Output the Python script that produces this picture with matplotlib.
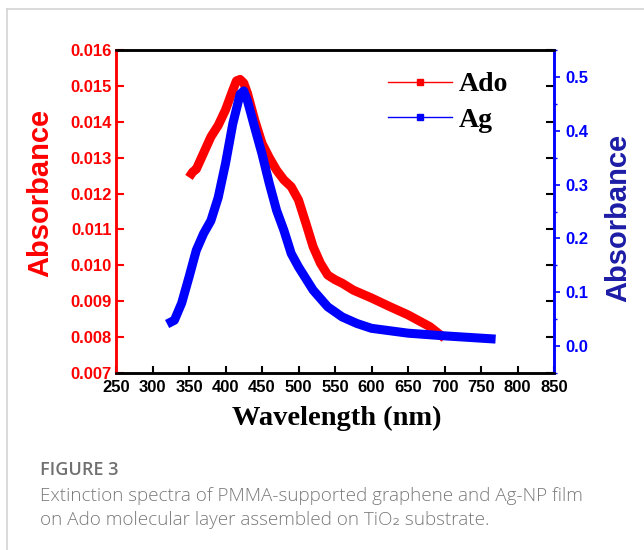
import matplotlib.pyplot as plt
from matplotlib.lines import Line2D
from matplotlib.ticker import MultipleLocator

# Ado spectrum (left axis)
ado_wl = [350, 355, 360, 370, 380, 390, 400, 410, 415, 420, 425, 430, 440, 450,
          460, 470, 480, 490, 500, 510, 520, 530, 540, 550, 560, 575, 600, 625,
          650, 680, 700]
ado_abs = [0.01245, 0.0126, 0.01268, 0.01313, 0.01358, 0.0139, 0.01433, 0.01488,
           0.01514, 0.01518, 0.01508, 0.0148, 0.01405, 0.0134, 0.0130, 0.01265,
           0.01238, 0.01219, 0.01182, 0.01118, 0.01052, 0.01006, 0.00973, 0.0096,
           0.0095, 0.00931, 0.00909, 0.00885, 0.00862, 0.00829, 0.00797]

# Ag spectrum (right axis)
ag_wl = [320, 330, 340, 350, 360, 370, 380, 390, 400, 410, 420, 425, 430, 440,
         450, 460, 470, 480, 490, 500, 520, 540, 560, 580, 600, 650, 700, 770]
ag_abs = [0.041, 0.048, 0.080, 0.128, 0.178, 0.209, 0.233, 0.276, 0.339, 0.413,
          0.468, 0.474, 0.456, 0.406, 0.357, 0.302, 0.252, 0.215, 0.172, 0.147,
          0.104, 0.073, 0.054, 0.042, 0.033, 0.024, 0.019, 0.013]

left_ticks = [0.007, 0.008, 0.009, 0.010, 0.011, 0.012, 0.013, 0.014, 0.015, 0.016]
right_ticks = [0.0, 0.1, 0.2, 0.3, 0.4, 0.5]

RED = '#ff0000'
BLUE = '#0000ff'
NAVY = '#1c1ca6'
SANS = 'Liberation Sans'
SERIF = 'Liberation Serif'

fig = plt.figure(figsize=(6.44, 5.5), dpi=100)
ax = fig.add_axes([116 / 644, 1 - 373 / 550, 438 / 644, 323 / 550])
ax2 = ax.twinx()

ax.plot(ado_wl, ado_abs, color=RED, lw=6.5, solid_capstyle='butt',
        solid_joinstyle='round', zorder=3)
ax2.plot(ag_wl, ag_abs, color=BLUE, lw=6.5, solid_capstyle='butt',
         solid_joinstyle='round', zorder=3)

ax.set_xlim(250, 850)
ax.set_ylim(0.007, 0.016)
ax2.set_ylim(-0.05, 0.55)
ax.xaxis.set_major_locator(MultipleLocator(50))
ax.set_yticks(left_ticks)
ax.set_yticklabels([f'{v:.3f}' for v in left_ticks])
ax2.set_yticks(right_ticks)
ax2.set_yticklabels([f'{v:.1f}' for v in right_ticks])
ax2.yaxis.set_minor_locator(MultipleLocator(0.05))

# spines
for a in (ax, ax2):
    a.spines['top'].set_color('black')
    a.spines['bottom'].set_color('black')
    a.spines['left'].set_color(RED)
    a.spines['right'].set_color(BLUE)
    for s in a.spines.values():
        s.set_linewidth(1.8)

# ticks
ax.tick_params(axis='x', direction='in', length=5, width=1.5, color='black',
               pad=5, labelsize=12)
ax.tick_params(axis='y', direction='in', length=6, width=1.5, color=RED,
               labelcolor=RED, labelsize=12, pad=3)
ax2.tick_params(axis='y', which='major', direction='out', length=4, width=1.2,
                color=BLUE, labelcolor=BLUE, labelsize=12, pad=4)
ax2.tick_params(axis='y', which='minor', direction='out', length=2.5, width=1,
                color=BLUE)

# black mirrored left-axis ticks on the right spine
sec = ax.secondary_yaxis('right')
sec.set_yticks(left_ticks)
sec.tick_params(axis='y', direction='in', length=6, width=1.5, color='black',
                labelright=False)
sec.spines['right'].set_visible(False)

for lab in ax.get_xticklabels() + ax.get_yticklabels() + ax2.get_yticklabels():
    lab.set_fontfamily(SANS)
    lab.set_fontweight('bold')

fig.text(337 / 644, 1 - 418 / 550, 'Wavelength (nm)', fontfamily=SERIF,
         fontweight='bold', fontsize=20.5, ha='center', va='center')
fig.text(40 / 644, 1 - 193 / 550, 'Absorbance', fontfamily=SANS,
         fontweight='bold', fontsize=21, color=RED, rotation=90,
         ha='center', va='center')
fig.text(618 / 644, 1 - 218 / 550, 'Absorbance', fontfamily=SANS,
         fontweight='bold', fontsize=21, color=NAVY, rotation=90,
         ha='center', va='center')

handles = [Line2D([], [], color=RED, lw=1, marker='s', ms=5),
           Line2D([], [], color=BLUE, lw=1, marker='s', ms=5)]
ax.legend(handles, ['Ado', 'Ag'], loc='upper right', frameon=False,
          prop={'family': SERIF, 'weight': 'bold', 'size': 20},
          handlelength=2.3, handletextpad=0.25, labelspacing=0.36,
          borderpad=0, borderaxespad=0, bbox_to_anchor=(0.895, 0.932))

# caption
fig.text(40 / 644, 1 - 470 / 550, 'FIGURE 3', fontfamily='Open Sans',
         fontweight='semibold', fontsize=13, color='#707070', va='center')
fig.text(40 / 644, 1 - 496 / 550,
         'Extinction spectra of PMMA-supported graphene and Ag-NP film',
         fontfamily=['Open Sans', 'DejaVu Sans'], fontweight='light',
         fontsize=13.6, color='#7a7a7a', va='center')
fig.text(40 / 644, 1 - 520 / 550,
         'on Ado molecular layer assembled on TiO\u2082 substrate.',
         fontfamily=['Open Sans', 'DejaVu Sans'], fontweight='light',
         fontsize=13.6, color='#7a7a7a', va='center')

# light frame around the figure panel
fig.add_artist(Line2D([7 / 644, 7 / 644], [0, 1 - 9 / 550],
                      transform=fig.transFigure, color='#d4d4d4', lw=1.2))
fig.add_artist(Line2D([7 / 644, 1], [1 - 9 / 550, 1 - 9 / 550],
                      transform=fig.transFigure, color='#d4d4d4', lw=1.2))

fig.savefig('out.png', dpi=100)
plt.close()
